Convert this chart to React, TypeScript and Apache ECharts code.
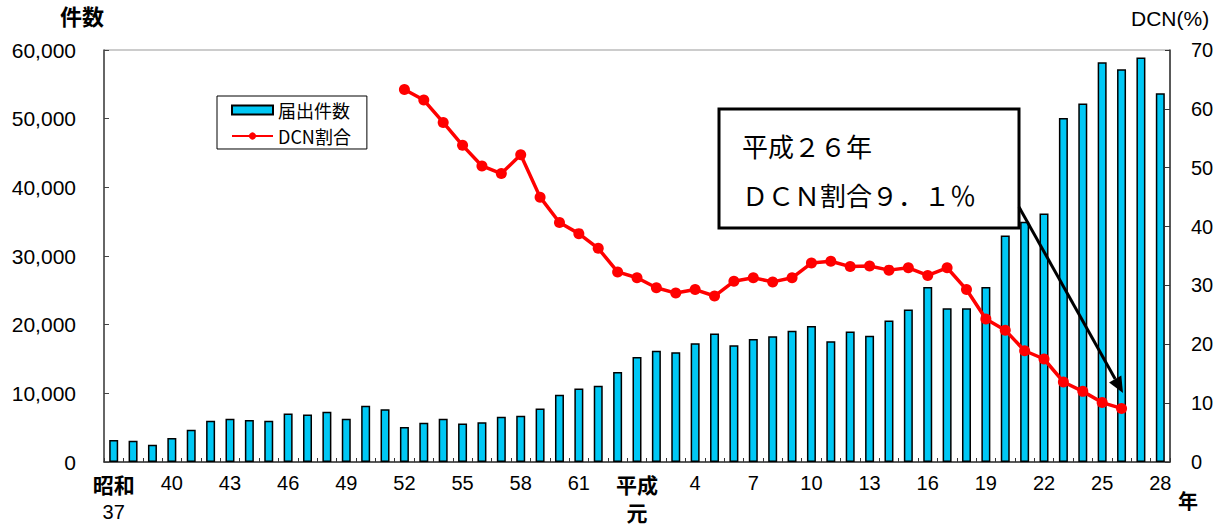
import React, { useEffect, useRef } from "react";
import * as echarts from "echarts";

const showaYears = [37,38,39,40,41,42,43,44,45,46,47,48,49,50,51,52,53,54,55,56,57,58,59,60,61,62,63];
const heiseiYears = [1,2,3,4,5,6,7,8,9,10,11,12,13,14,15,16,17,18,19,20,21,22,23,24,25,26,27,28];
const categories = [
  ...showaYears.map((y) => "昭和" + y),
  ...heiseiYears.map((y) => (y === 1 ? "平成元" : "平成" + y)),
];

const reportCounts = [
  3200, 3100, 2500, 3500, 4700, 6000, 6300, 6100, 6000, 7050, 6900, 7300, 6300, 8200, 7700,
  5100, 5700, 6300, 5600, 5800, 6600, 6750, 7800, 9800, 10700, 11100, 13100,
  15300, 16200, 16000, 17300, 18700, 17000, 17900, 18300, 19100, 19800,
  17600, 19000, 18400, 20600, 22200, 25500, 22400, 22400, 25500, 33000,
  35000, 36200, 50100, 52200, 58200, 57200, 58900, 53700,
];

// DCN ratio from 昭和52 to 平成26
const dcnStartIndex = 15;
const dcnRatio = [
  63.3, 61.5, 57.7, 53.8, 50.3, 49.0, 52.2, 45.0, 40.7, 38.8, 36.3, 32.3,
  31.3, 29.6, 28.7, 29.3, 28.2, 30.7, 31.3, 30.6, 31.3, 33.8,
  34.1, 33.2, 33.3, 32.6, 33.0, 31.7, 33.0, 29.3, 24.3, 22.4,
  18.9, 17.5, 13.6, 12.0, 10.1, 9.1,
];

const leftTicks = { min: 0, max: 60000, interval: 10000 };
const rightTicks = { min: 0, max: 70, interval: 10 };

const annotationLines = ["平成２６年", "ＤＣＮ割合９．１％"];

const SANS = "'Liberation Sans', 'Noto Sans CJK JP', sans-serif";
const CJK = "'Noto Sans CJK JP', sans-serif";

export default function App() {
  const ref = useRef<HTMLDivElement>(null);

  useEffect(() => {
    document.body.style.margin = "0";
    const chart = echarts.init(ref.current!, null, { renderer: "svg" });
    const lineData = categories.map((_, i) => {
      const k = i - dcnStartIndex;
      return k >= 0 && k < dcnRatio.length ? dcnRatio[k] : null;
    });

    // arrow geometry
    const ax1 = 1019, ay1 = 207, ax2 = 1123, ay2 = 393;
    const dx = ax2 - ax1, dy = ay2 - ay1;
    const len = Math.sqrt(dx * dx + dy * dy);
    const ux = dx / len, uy = dy / len;
    const hl = 16, hw = 7;
    const bx = ax2 - ux * hl, by = ay2 - uy * hl;
    const head = [
      [ax2, ay2],
      [bx - uy * hw, by + ux * hw],
      [bx + uy * hw, by - ux * hw],
    ];

    chart.setOption({
      animation: false,
      backgroundColor: "#fff",
      grid: {
        left: 104,
        top: 50,
        right: 51,
        bottom: 64,
        show: true,
        borderColor: "#999",
        borderWidth: 1,
      },
      legend: {
        orient: "vertical",
        left: 217,
        top: 96,
        backgroundColor: "#fff",
        borderColor: "#000",
        borderWidth: 1,
        borderRadius: 0,
        padding: [5, 16, 4, 14],
        itemGap: 8,
        itemWidth: 41,
        itemHeight: 9,
        textStyle: { fontSize: 18, color: "#000", fontFamily: CJK },
        data: [
          { name: "届出件数", icon: "rect" },
          { name: "DCN割合" },
        ],
      },
      xAxis: {
        type: "category",
        data: categories,
        boundaryGap: true,
        axisLine: { show: true, lineStyle: { color: "#333", width: 1.5 } },
        axisTick: { show: true, inside: true, length: 4, interval: 0, lineStyle: { color: "#333" } },
        axisLabel: {
          interval: (index: number) => index % 3 === 0,
          margin: 8,
          color: "#000",
          fontSize: 20,
          fontFamily: SANS,
          lineHeight: 25,
          formatter: (value: string) => {
            if (value === "昭和37") return "{b|昭和}\n{n2|37}";
            if (value === "平成元") return "{b|平成}\n{b|元}";
            return "{n|" + value.replace("昭和", "").replace("平成", "") + "}";
          },
          rich: {
            b: { fontSize: 21, fontWeight: "bold", lineHeight: 28, fontFamily: CJK, color: "#000" },
            n: { fontSize: 20, lineHeight: 25, fontFamily: SANS, color: "#000" },
            n2: { fontSize: 20, lineHeight: 28, fontFamily: SANS, color: "#000" },
          },
        },
        splitLine: { show: false },
      },
      yAxis: [
        {
          type: "value",
          ...leftTicks,
          position: "left",
          axisLine: { show: true, lineStyle: { color: "#444", width: 1.5 } },
          axisTick: { show: true, inside: true, length: 5, lineStyle: { color: "#444" } },
          axisLabel: {
            margin: 28,
            color: "#000",
            fontSize: 21,
            fontFamily: SANS,
            formatter: (v: number) => v.toLocaleString("en-US"),
          },
          splitLine: { show: false },
        },
        {
          type: "value",
          ...rightTicks,
          position: "right",
          axisLine: { show: true, lineStyle: { color: "#333", width: 1.5 } },
          axisTick: { show: true, inside: true, length: 5, lineStyle: { color: "#333" } },
          axisLabel: { margin: 21, color: "#000", fontSize: 20, fontFamily: SANS },
          splitLine: { show: false },
        },
      ],
      series: [
        {
          name: "届出件数",
          type: "bar",
          yAxisIndex: 0,
          data: reportCounts,
          barWidth: 9,
          itemStyle: { color: "#00C8F5", borderColor: "#000", borderWidth: 1.5 },
        },
        {
          name: "DCN割合",
          type: "line",
          yAxisIndex: 1,
          data: lineData,
          connectNulls: false,
          symbol: "circle",
          symbolSize: 11,
          lineStyle: { color: "#FF0000", width: 3.5 },
          itemStyle: { color: "#FF0000" },
          z: 3,
        },
      ],
      graphic: [
        {
          type: "text",
          left: 60,
          top: 4,
          style: { text: "件数", fill: "#000", font: "bold 22px 'Noto Sans CJK JP', sans-serif" },
        },
        {
          type: "text",
          left: 1131,
          top: 8,
          style: { text: "DCN(%)", fill: "#000", font: "21px 'Liberation Sans', 'Noto Sans CJK JP', sans-serif" },
        },
        {
          type: "text",
          left: 1178,
          top: 490,
          style: { text: "年", fill: "#000", font: "bold 20px 'Noto Sans CJK JP', sans-serif" },
        },
        {
          type: "rect",
          shape: { x: 719, y: 109, width: 300, height: 119 },
          style: { fill: "#fff", stroke: "#000", lineWidth: 3 },
          z: 100,
        },
        {
          type: "text",
          x: 742,
          y: 145,
          style: {
            text: annotationLines[0],
            fill: "#000",
            font: "26px 'Noto Sans CJK JP', serif",
            verticalAlign: "middle",
          },
          z: 101,
        },
        {
          type: "text",
          x: 742,
          y: 194,
          style: {
            text: annotationLines[1],
            fill: "#000",
            font: "26px 'Noto Sans CJK JP', serif",
            verticalAlign: "middle",
          },
          z: 101,
        },
        {
          type: "line",
          shape: { x1: ax1, y1: ay1, x2: bx, y2: by },
          style: { stroke: "#000", lineWidth: 3 },
          z: 100,
        },
        {
          type: "polygon",
          shape: { points: head },
          style: { fill: "#000" },
          z: 100,
        },
      ],
    });
    return () => chart.dispose();
  }, []);

  return (
    <div
      ref={ref}
      style={{ position: "absolute", left: 0, top: 0, width: 1221, height: 526 }}
    />
  );
}
